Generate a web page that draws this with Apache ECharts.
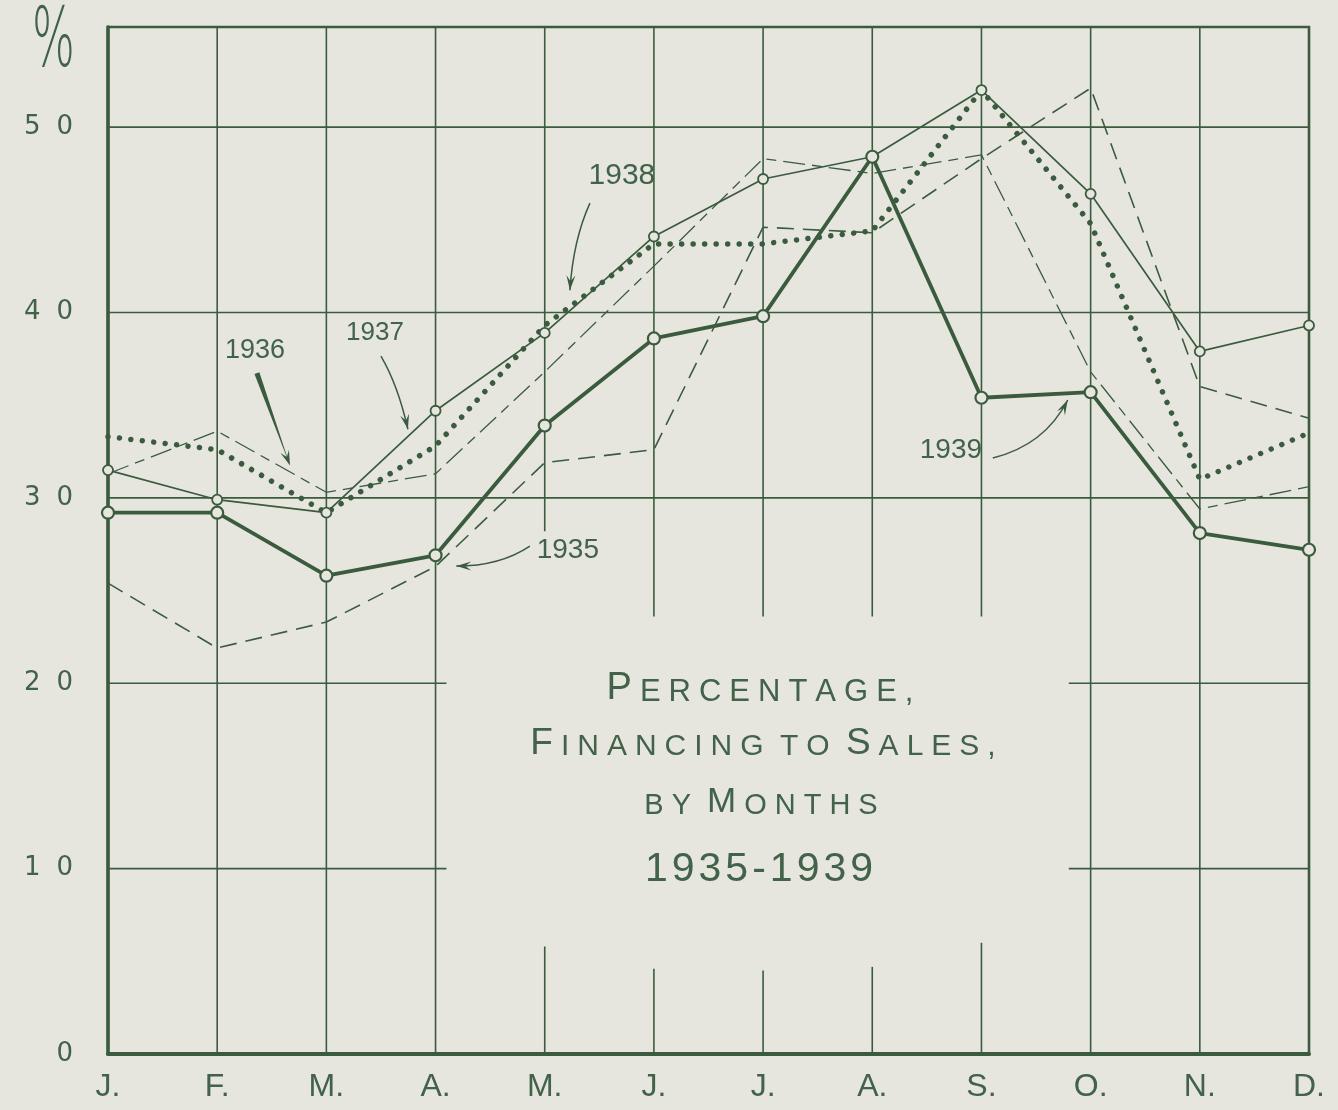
<!DOCTYPE html>
<html>
<head>
<meta charset="utf-8">
<script src="https://cdn.jsdelivr.net/npm/echarts@6/dist/echarts.min.js"></script>
<style>
  html, body { margin: 0; padding: 0; background: #e6e6df; }
  #chart { width: 1338px; height: 1110px; }
</style>
</head>
<body>
<div id="chart"></div>
<script>
// ---------- DATA ----------
const months = ['J.', 'F.', 'M.', 'A.', 'M.', 'J.', 'J.', 'A.', 'S.', 'O.', 'N.', 'D.'];
const yTicks = [0, 10, 20, 30, 40, 50];
const s1935 = [25.4, 21.9, 23.3, 26.3, 31.9, 32.6, 44.6, 44.3, 48.3, 52.1, 36.0, 34.3];
const s1936 = [31.3, 33.6, 30.3, 31.3, 36.8, 42.5, 48.3, 47.5, 48.5, 36.8, 29.4, 30.6];
const s1937 = [31.5, 29.9, 29.2, 34.7, 38.9, 44.1, 47.2, 48.4, 52.0, 46.4, 37.9, 39.3];
const s1938 = [33.3, 32.6, 29.2, 32.8, 39.3, 43.7, 43.7, 44.4, 52.0, 44.8, 31.0, 33.5];
const s1939 = [29.2, 29.2, 25.8, 26.9, 33.9, 38.6, 39.8, 48.4, 35.4, 35.7, 28.1, 27.2];
const titleLines = ['PERCENTAGE,', 'FINANCING TO SALES,', 'BY MONTHS', '1935-1939'];

// ---------- STYLE ----------
const BG = '#e6e6df';
const INK = '#3b5b3e';
const TXT = '#42624a';
const Y_MAX = 55.4;

// grid structure (in data units)
const fullVLines = [1, 2, 3, 9, 10];
const partVLines = [4, 5, 6, 7, 8];
const partVTopEnd = [28.2, 23.6, 23.6, 23.6, 23.6];
const partVBottomTop = [5.8, 4.6, 4.5, 4.7, 6.0];
const fullHLines = [30, 40, 50];
const partHLines = [10, 20];

const gridSegs = [];
fullHLines.forEach(v => gridSegs.push([0, v, 11, v]));
partHLines.forEach(v => { gridSegs.push([0, v, 3.1, v]); gridSegs.push([8.8, v, 11, v]); });
fullVLines.forEach(x => gridSegs.push([x, 0, x, Y_MAX]));
partVLines.forEach((x, i) => { gridSegs.push([x, partVTopEnd[i], x, Y_MAX]); gridSegs.push([x, 0, x, partVBottomTop[i]]); });

// annotations (label + arrow), in data units
const notes = [
  { label: '1938', size: 30, at: [4.707, 47.36], from: [4.414, 45.90], ctrl: [4.26, 43.9], to: [4.231, 41.2] },
  { label: '1937', size: 26, at: [2.445, 38.89], from: [2.50, 37.65], ctrl: [2.656, 36.08], to: [2.747, 33.7] },
  { label: '1936', size: 27, at: [1.346, 37.97], from: [1.364, 36.73], ctrl: [1.511, 34.2], to: [1.667, 31.75], wedge: true },
  { label: '1935', size: 28, at: [4.212, 27.18], from: [3.864, 27.40], ctrl: [3.59, 26.32], to: [3.19, 26.32] },
  { label: '1939', size: 28, at: [7.72, 32.58], from: [8.104, 32.15], ctrl: [8.58, 32.85], to: [8.79, 35.28] }
];

const pairs = arr => arr.map((v, i) => [i, v]);

function spaced(str, bigIdx, big, small) {
  return str.split('').map((ch, i) => {
    if (ch === ' ') return '{sp| }';
    return '{' + (bigIdx.includes(i) ? big : small) + '|' + ch + '}';
  }).join('');
}

const FONT = "'Liberation Sans', Arial, sans-serif";
const tRich = (size, pad) => ({ fontSize: size, fontFamily: FONT, fill: TXT, color: TXT, padding: [0, pad], verticalAlign: 'bottom', lineHeight: 44 });

const chart = echarts.init(document.getElementById('chart'), null, { renderer: 'canvas' });

const option = {
  backgroundColor: BG,
  animation: false,
  grid: {
    left: 108, right: 29, top: 27, bottom: 56,
    show: true, borderColor: INK, borderWidth: 2.6, backgroundColor: 'transparent',
    containLabel: false, outerBoundsMode: 'none'
  },
  xAxis: {
    type: 'value', min: 0, max: 11, interval: 1,
    axisLine: { show: true, lineStyle: { color: INK, width: 4 } },
    axisTick: { show: false },
    splitLine: { show: false },
    axisLabel: {
      margin: 17, color: TXT, fontSize: 32, fontFamily: "'Liberation Sans Narrow', " + FONT,
      formatter: v => months[v] || '', showMinLabel: true, showMaxLabel: true
    }
  },
  yAxis: {
    type: 'value', min: 0, max: Y_MAX, interval: 10,
    axisLine: { show: true, lineStyle: { color: INK, width: 3.5 } },
    axisTick: { show: false },
    splitLine: { show: false },
    axisLabel: {
      margin: 27, color: TXT,
      formatter: v => yTicks.includes(v) ? String(v).split('').map(d => '{d|' + d + '}').join('') : '',
      rich: { d: { fontSize: 26, fontFamily: "'DejaVu Sans', " + FONT, color: TXT, padding: [0, 8] } }
    }
  },
  graphic: [
    { type: 'text', x: 32, y: 4, scaleX: 0.55, style: { text: '%', fontSize: 82, fontFamily: "'DejaVu Sans'", fontWeight: 200, fill: TXT } },
    { type: 'text', x: 760, y: 686, style: { text: spaced(titleLines[0], [0], 'b', 's'), align: 'center', verticalAlign: 'middle',
        rich: { b: tRich(38, 4), s: tRich(31, 4), sp: tRich(31, 0) } } },
    { type: 'text', x: 763, y: 740, style: { text: spaced(titleLines[1], [0, 13], 'b', 's'), align: 'center', verticalAlign: 'middle',
        rich: { b: tRich(37, 4), s: tRich(30, 4), sp: tRich(30, 0) } } },
    { type: 'text', x: 761, y: 798, style: { text: spaced(titleLines[2], [3], 'b', 's'), align: 'center', verticalAlign: 'middle',
        rich: { b: tRich(35, 4), s: tRich(29, 4), sp: tRich(29, 0) } } },
    { type: 'text', x: 759, y: 868, style: { text: spaced(titleLines[3], [], 'b', 'n'), align: 'center', verticalAlign: 'middle',
        rich: { n: tRich(41, 2), b: tRich(41, 2) } } }
  ],
  series: [
    {
      type: 'custom', name: 'grid', z: 1, silent: true, clip: false,
      dimensions: ['x1', 'y1', 'x2', 'y2'],
      encode: { x: [0, 2], y: [1, 3] },
      data: gridSegs,
      renderItem: (params, api) => {
        const p1 = api.coord([api.value(0), api.value(1)]);
        const p2 = api.coord([api.value(2), api.value(3)]);
        return { type: 'line', shape: { x1: p1[0], y1: p1[1], x2: p2[0], y2: p2[1] },
                 style: { stroke: INK, lineWidth: 1.6 } };
      }
    },
    {
      type: 'line', name: '1935', z: 3, data: pairs(s1935), symbol: 'none',
      lineStyle: { color: INK, width: 1.6, type: [17, 9] }
    },
    {
      type: 'line', name: '1936', z: 3, data: pairs(s1936), symbol: 'none',
      lineStyle: { color: INK, width: 1.3, type: [22, 7, 10, 7] }
    },
    {
      type: 'line', name: '1938', z: 4, data: pairs(s1938), symbol: 'none',
      lineStyle: { color: INK, width: 5.5, type: [0.01, 11.5], cap: 'round' }
    },
    {
      type: 'line', name: '1937', z: 5, data: pairs(s1937), symbol: 'circle', symbolSize: 10, showAllSymbol: true,
      lineStyle: { color: INK, width: 1.7 },
      itemStyle: { color: BG, borderColor: INK, borderWidth: 1.8 }
    },
    {
      type: 'line', name: '1939', z: 6, data: pairs(s1939), symbol: 'circle', symbolSize: 12, showAllSymbol: true,
      lineStyle: { color: INK, width: 3.8 },
      itemStyle: { color: BG, borderColor: INK, borderWidth: 2.2 }
    },
    {
      type: 'custom', name: 'notes', z: 7, silent: true, clip: false,
      encode: { x: 0, y: 1 },
      data: notes.map(n => [n.at[0], n.at[1]]),
      renderItem: (params, api) => {
        const n = notes[params.dataIndex];
        const c = api.coord(n.at), a = api.coord(n.from), q = api.coord(n.ctrl), b = api.coord(n.to);
        const dx = b[0] - q[0], dy = b[1] - q[1], len = Math.hypot(dx, dy) || 1;
        const ux = dx / len, uy = dy / len, nx = -uy, ny = ux;
        const L = 15, W = 4.5;
        const bx = b[0] - ux * L, by = b[1] - uy * L;
        const head = [[b[0], b[1]], [bx + nx * W, by + ny * W], [b[0] - ux * L * 0.6, b[1] - uy * L * 0.6], [bx - nx * W, by - ny * W]];
        const children = [
          { type: 'text', x: c[0], y: c[1], style: { text: n.label, fontSize: n.size, fontFamily: FONT, fill: TXT, align: 'center', verticalAlign: 'middle' } },
          { type: 'polygon', shape: { points: head }, style: { fill: INK } }
        ];
        if (n.wedge) {
          const ex = b[0] - a[0], ey = b[1] - a[1], el = Math.hypot(ex, ey) || 1;
          const mx = -ey / el, my = ex / el;
          children.push({ type: 'polygon', shape: { points: [[a[0] + mx * 2.6, a[1] + my * 2.6], [a[0] - mx * 2.6, a[1] - my * 2.6], [b[0], b[1]]] }, style: { fill: INK } });
        } else {
          children.push({ type: 'bezierCurve', shape: { x1: a[0], y1: a[1], x2: b[0], y2: b[1], cpx1: q[0], cpy1: q[1] },
                          style: { stroke: INK, lineWidth: 1.5, fill: null } });
        }
        return { type: 'group', children };
      }
    }
  ]
};

chart.setOption(option);
</script>
</body>
</html>
